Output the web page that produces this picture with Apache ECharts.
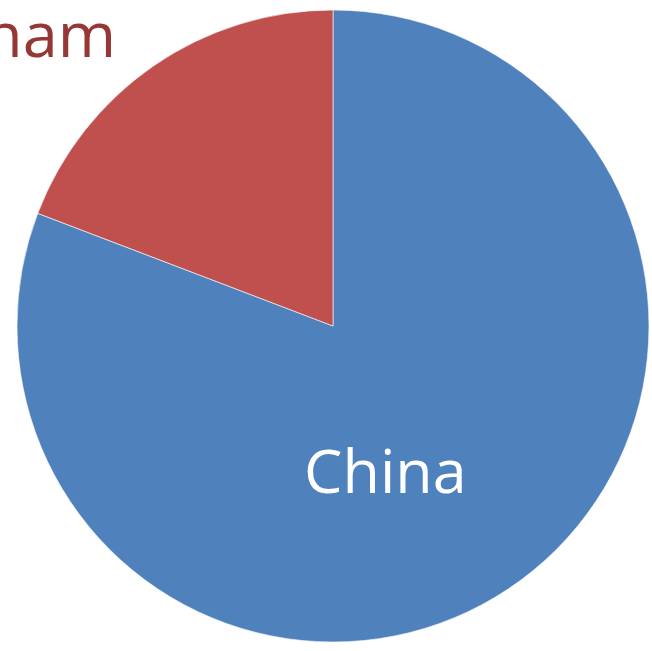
<!DOCTYPE html>
<html>
<head>
<meta charset="utf-8">
<script src="https://cdn.jsdelivr.net/npm/echarts@6/dist/echarts.min.js"></script>
<style>
  html, body { margin: 0; padding: 0; background: #fff; }
  #main { width: 652px; height: 651px; }
</style>
</head>
<body>
<div id="main"></div>
<script>
// data
var countries = ['China', 'Vietnam'];
var shares = [80.8, 19.2];
var colors = ['#4F81BD', '#C0504D'];
var labelColors = ['#fff', '#953735'];

var chart = echarts.init(document.getElementById('main'));

var data = countries.map(function (name, i) {
  return {
    name: name,
    value: shares[i],
    itemStyle: { color: colors[i] },
    label: { color: labelColors[i] }
  };
});

chart.setOption({
  animation: false,
  series: [{
    type: 'pie',
    center: [333, 326],
    radius: [0, 316],
    startAngle: 90,
    clockwise: true,
    data: data,
    itemStyle: { borderColor: 'rgba(255,255,255,0.6)', borderWidth: 1 },
    label: {
      show: true,
      position: 'inside',
      formatter: '{b}',
      fontFamily: 'Open Sans',
      fontSize: 61
    },
    labelLine: { show: false },
    // Vietnam label sits outside the pie, cut off at the left edge
    labelLayout: function (p) {
      if (p.dataIndex === 1) {
        return { x: 116, y: 39, align: 'right', verticalAlign: 'middle', fontSize: 63 };
      }
      return { dx: -39, dy: 17 };
    }
  }]
});
</script>
</body>
</html>
